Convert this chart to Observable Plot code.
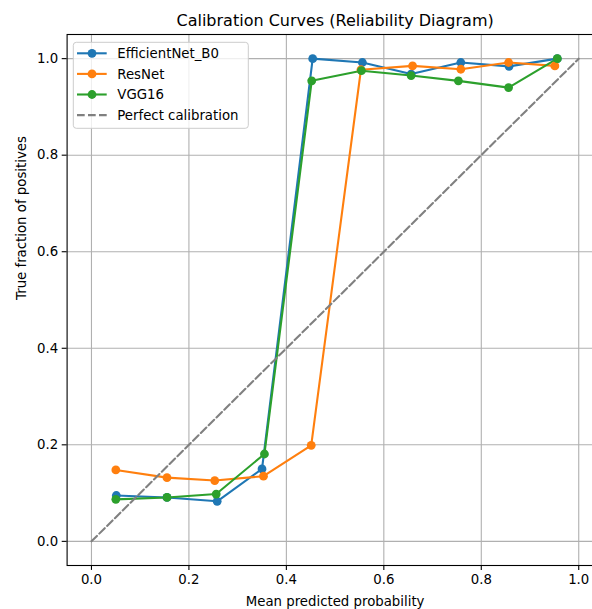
<!DOCTYPE html>
<html>
<head>
<meta charset="utf-8">
<script src="https://cdn.jsdelivr.net/npm/d3@7"></script>
<script src="https://cdn.jsdelivr.net/npm/@observablehq/plot@0.6"></script>
<style>
  html, body { margin: 0; padding: 0; background: #fff; overflow: hidden; }
  #chart { width: 592px; height: 609px; overflow: hidden; }
  #chart svg { max-width: none !important; width: 620px !important; height: 609px !important; }
</style>
</head>
<body>
<div id="chart"></div>
<script>
const seriesNames = ["EfficientNet_B0", "ResNet", "VGG16"];
const seriesColors = ["#1f77b4", "#ff7f0e", "#2ca02c"];
const effX = [0.051, 0.155, 0.258, 0.350, 0.454, 0.556, 0.656, 0.758, 0.857, 0.956];
const effY = [0.095, 0.091, 0.083, 0.150, 1.000, 0.992, 0.968, 0.992, 0.984, 1.000];
const resX = [0.050, 0.155, 0.253, 0.353, 0.451, 0.553, 0.659, 0.758, 0.856, 0.951];
const resY = [0.148, 0.132, 0.126, 0.135, 0.199, 0.977, 0.985, 0.978, 0.992, 0.985];
const vggX = [0.050, 0.155, 0.256, 0.355, 0.452, 0.554, 0.656, 0.753, 0.856, 0.956];
const vggY = [0.087, 0.091, 0.098, 0.181, 0.954, 0.975, 0.965, 0.954, 0.940, 1.000];
const perfectX = [0, 1];
const perfectY = [0, 1];
const perfectLabel = "Perfect calibration";
const tickValues = [0, 0.2, 0.4, 0.6, 0.8, 1.0];
const titleText = "Calibration Curves (Reliability Diagram)";
const xLabel = "Mean predicted probability";
const yLabel = "True fraction of positives";

const xs = [effX, resX, vggX];
const ys = [effY, resY, vggY];
const rows = seriesNames.flatMap((name, i) => xs[i].map((x, j) => ({series: name, x, y: ys[i][j]})));
const diag = perfectX.map((x, i) => ({x, y: perfectY[i]}));

const font = "DejaVu Sans, sans-serif";
const fmt = d3.format(".1f");

const plot = Plot.plot({
  width: 620,
  height: 609,
  marginLeft: 66.6,
  marginRight: 17.4,
  marginTop: 34,
  marginBottom: 44,
  style: {fontFamily: font, fontSize: "13.3px", color: "#000", background: "#fff", maxWidth: "none"},
  x: {domain: [-0.05, 1.05]},
  y: {domain: [-0.05, 1.05]},
  color: {domain: seriesNames, range: seriesColors},
  marks: [
    Plot.gridX(tickValues, {stroke: "#b0b0b0", strokeOpacity: 1, strokeWidth: 1.1}),
    Plot.gridY(tickValues, {stroke: "#b0b0b0", strokeOpacity: 1, strokeWidth: 1.1}),
    Plot.axisX({ticks: tickValues, tickFormat: fmt, tickSize: 4.9, tickPadding: 4, label: null, fontSize: 13.3, strokeWidth: 1.1}),
    Plot.axisY({ticks: tickValues, tickFormat: fmt, tickSize: 4.9, tickPadding: 4, label: null, fontSize: 13.3, strokeWidth: 1.1}),
    Plot.line(rows, {x: "x", y: "y", stroke: "series", z: "series", strokeWidth: 2.1}),
    Plot.dot(rows, {x: "x", y: "y", fill: "series", r: 4.4, stroke: null}),
    Plot.line(diag, {x: "x", y: "y", stroke: "#808080", strokeWidth: 2.1, strokeDasharray: "7.7,3.3"}),
    Plot.frame({stroke: "#000", strokeWidth: 1.1}),
    Plot.text([titleText], {frameAnchor: "top", dy: -20, fontSize: 16, fill: "#000"}),
    Plot.text([xLabel], {frameAnchor: "bottom", dy: 40, fontSize: 13.3, fill: "#000"}),
    Plot.text([yLabel], {frameAnchor: "left", dx: -45, rotate: -90, fontSize: 13.3, fill: "#000"})
  ]
});

document.getElementById("chart").appendChild(plot);

// Legend drawn inside the plot area
const svg = d3.select(plot);
const legend = svg.append("g").attr("font-family", font).attr("font-size", "13.3px").attr("text-anchor", "start");
const lx = 73.3, ly = 42.3;
legend.append("rect")
  .attr("x", lx).attr("y", ly).attr("width", 175).attr("height", 86)
  .attr("rx", 3).attr("fill", "#fff").attr("fill-opacity", 0.8)
  .attr("stroke", "#cccccc").attr("stroke-width", 1);
const entries = seriesNames.map((n, i) => ({name: n, color: seriesColors[i], dashed: false}))
  .concat([{name: perfectLabel, color: "#808080", dashed: true}]);
entries.forEach((e, i) => {
  const cy = 53.3 + i * 20.6;
  legend.append("line")
    .attr("x1", 77).attr("x2", 106.7).attr("y1", cy).attr("y2", cy)
    .attr("stroke", e.color).attr("stroke-width", 2.1)
    .attr("stroke-dasharray", e.dashed ? "7.7,3.3" : null);
  if (!e.dashed) {
    legend.append("circle").attr("cx", 92).attr("cy", cy).attr("r", 4.4).attr("fill", e.color);
  }
  legend.append("text").attr("x", 117.3).attr("y", cy).attr("dy", "0.35em")
    .attr("fill", "#000").text(e.name);
});
</script>
</body>
</html>
